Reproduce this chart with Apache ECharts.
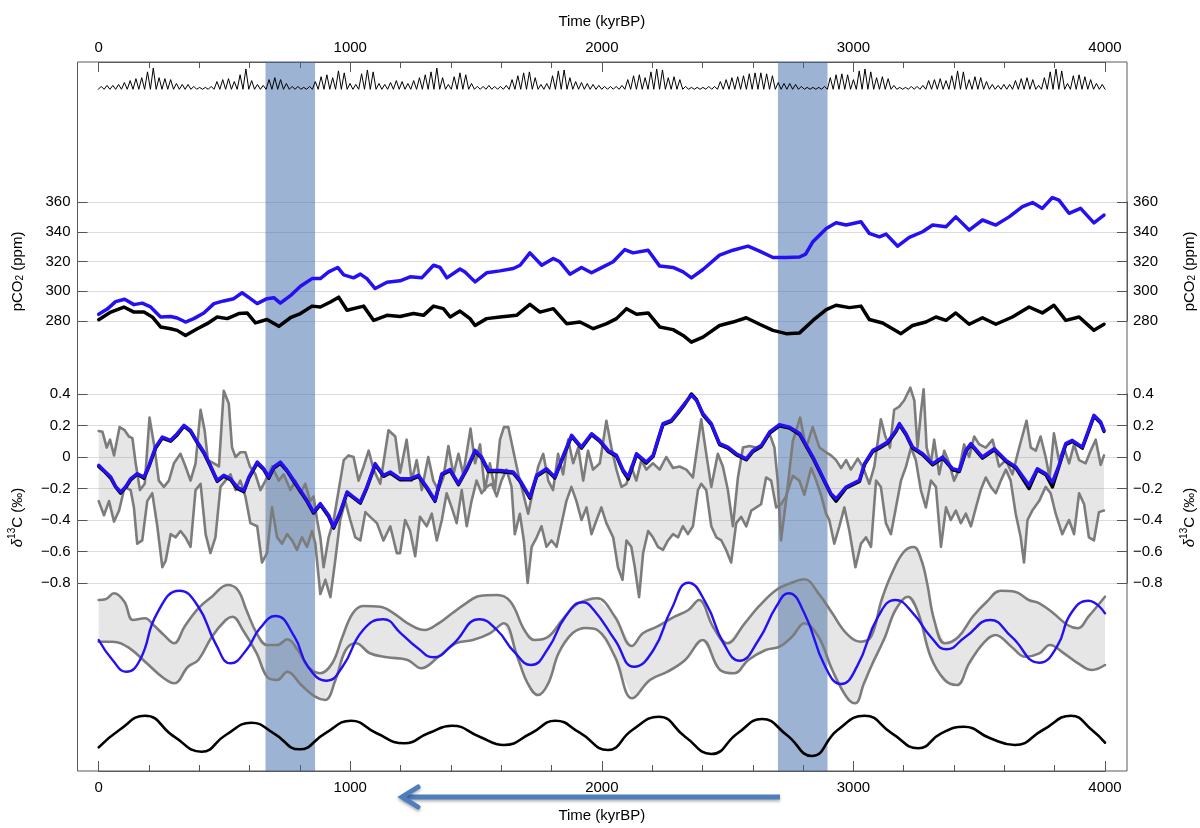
<!DOCTYPE html>
<html><head><meta charset="utf-8">
<script src="https://cdn.jsdelivr.net/npm/echarts@6/dist/echarts.min.js"></script>
<style>html,body{margin:0;padding:0;background:#fff}#c{width:1200px;height:828px}</style>
</head><body><div id="c"></div>
<script>
// ---------------- DATA ----------------
const timeTicks = [0, 4000, 1000];            // min, max, step (kyr BP)
const bands = [[663, 860], [2700, 2897]];     // shaded intervals (kyr BP)

// insolation-like forcing (top strip): peak heights, one per precession cycle
const insolStart = 10, insolStep = 23;
const insolPeaks = [3,4,4,5,7,9,11,12,18,22, 12,11,10,6,5,5,3,2,2,3, 8,10,11,8,15,21,9,5,4,10,
  12,10,6,3,3,2,3,8,13,15, 12,19,17,6,5,16,20,18,6,5, 7,9,8,6,9,12,15,18,22,12,
  5,13,17,15,6,3,3,4,3,3, 4,10,14,17,18,12,5,6,14,19, 20,12,8,7,6,5,4,3,3,3,
  4,10,14,15,12,18,21,20,12,13, 10,3,2,2,2,3,3,8,10,12, 13,14,16,17,17,16,14,7,6,6,
  5,3,2,2,2,3,12,15,16,15, 10,19,21,18,12,13,11,4,2,2, 3,3,4,9,10,11,9,14,19,18,
  10,13,12,8,5,4,5,5,9,11, 12,10,4,12,18,21,19,6,14,15, 13,10,6,5];

// pCO2 (ppm)
const co2Blue = [[0,284.5],[34,288],[67,293],[103,294.6],[140,291],[173,292],[206,289.5],[226,286],[246,282.7],[286,283],[312,282],[345,279.3],[378,281.6],[418,285.4],[458,291.7],[497,293.5],[537,295],[570,299],[603,295],[630,291.7],[669,295],[696,295.7],[722,292],[762,297],[802,303.4],[848,308.5],[881,308.5],[914,313],[950,316],[974,311],[1013,309],[1040,311.5],[1066,308.5],[1099,301.8],[1146,306],[1198,307],[1238,309.7],[1284,309],[1331,317.5],[1357,316],[1384,309],[1436,315],[1456,313],[1496,306.3],[1542,312.4],[1595,313.7],[1648,315.3],[1675,317.5],[1714,325.8],[1761,317.5],[1807,322],[1833,319.8],[1873,311.5],[1919,316],[1959,312.4],[2005,316.4],[2045,319.8],[2091,328],[2124,325.8],[2184,327.6],[2230,316.9],[2283,316],[2323,313],[2356,309],[2402,314.6],[2468,324.3],[2521,327.6],[2581,330.3],[2627,327],[2680,322.7],[2733,322.7],[2786,323],[2810,325],[2839,333.3],[2892,342.2],[2931,346],[2971,344.5],[3030,346.7],[3063,338.9],[3103,336.6],[3130,338.4],[3176,330.3],[3222,336.2],[3275,340],[3315,344.5],[3368,343.4],[3407,350],[3460,341.1],[3513,347.9],[3566,344.5],[3619,350],[3672,356.9],[3712,359.6],[3751,355.7],[3791,363],[3817,361.3],[3857,352.4],[3903,355.7],[3956,346],[3996,351.2]];
const co2Black = [[0,280.9],[48,286],[100,289.4],[140,286],[180,286],[213,282.7],[246,276],[286,274.8],[312,273.7],[345,270.3],[392,274.8],[431,278.2],[471,282.7],[511,281.6],[557,285],[590,285.4],[623,278.7],[669,281],[716,276.4],[762,282.2],[802,285],[848,290],[881,289.4],[921,292.8],[954,296],[987,287.2],[1053,290],[1093,280.4],[1146,283.8],[1198,283],[1251,285],[1291,283.8],[1331,290],[1370,288.3],[1397,282.7],[1436,286.7],[1476,281.6],[1496,277],[1542,281.6],[1595,282.7],[1661,283.8],[1714,291.2],[1754,286],[1807,288.3],[1860,278.2],[1913,279.3],[1966,274.8],[2019,278.2],[2058,281.6],[2098,288.3],[2138,284.5],[2184,285.4],[2230,276],[2283,274.2],[2323,270.3],[2356,265.8],[2402,269.2],[2468,277],[2521,279.3],[2574,282.2],[2627,277.8],[2680,273.7],[2733,271.5],[2786,272],[2839,280.4],[2892,287.6],[2931,290.6],[2984,289],[3030,290],[3063,281],[3116,278.7],[3189,271.5],[3235,277],[3288,279.3],[3328,282.7],[3368,280.4],[3407,285.4],[3460,277.8],[3513,282.2],[3566,277.8],[3632,282.7],[3698,289.4],[3751,285.4],[3797,290.6],[3844,280.4],[3897,282.7],[3956,273.7],[3996,277.8]];

// delta13C (permil)
const d13cBlue = [[0,-0.053],[21,-0.085],[48,-0.127],[67,-0.186],[87,-0.222],[107,-0.19],[127,-0.138],[153,-0.106],[180,-0.127],[200,-0.053],[226,0.063],[253,0.127],[286,0.106],[312,0.148],[339,0.201],[365,0.169],[392,0.095],[418,0.032],[444,-0.053],[471,-0.148],[497,-0.116],[524,-0.138],[550,-0.19],[577,-0.212],[597,-0.127],[630,-0.032],[656,-0.074],[676,-0.127],[696,-0.063],[722,-0.032],[749,-0.085],[775,-0.148],[802,-0.212],[828,-0.275],[854,-0.349],[881,-0.296],[914,-0.37],[934,-0.444],[960,-0.349],[987,-0.222],[1013,-0.254],[1040,-0.286],[1066,-0.19],[1099,-0.042],[1132,-0.116],[1159,-0.095],[1198,-0.137],[1238,-0.138],[1271,-0.116],[1304,-0.19],[1337,-0.275],[1364,-0.106],[1397,-0.08],[1430,-0.169],[1463,-0.074],[1496,0.042],[1522,0],[1549,-0.085],[1595,-0.085],[1648,-0.095],[1675,-0.148],[1714,-0.254],[1741,-0.116],[1780,-0.074],[1813,-0.127],[1847,0.011],[1880,0.138],[1919,0.063],[1959,0.148],[1992,0.106],[2025,0.042],[2058,0.011],[2085,-0.085],[2105,-0.127],[2138,0.021],[2177,-0.032],[2204,0.011],[2224,0.116],[2243,0.212],[2276,0.233],[2303,0.286],[2329,0.339],[2356,0.392],[2376,0.36],[2402,0.275],[2435,0.212],[2468,0.085],[2501,0.063],[2534,0.021],[2574,-0.011],[2601,0.042],[2634,0.074],[2667,0.159],[2706,0.205],[2746,0.19],[2786,0.15],[2839,0],[2878,-0.127],[2911,-0.233],[2931,-0.265],[2971,-0.19],[3024,-0.148],[3044,-0.042],[3077,0.042],[3103,0.063],[3136,0.095],[3169,0.169],[3183,0.212],[3209,0.148],[3235,0.063],[3275,0.021],[3315,-0.042],[3355,0],[3394,-0.074],[3421,-0.085],[3447,0.042],[3467,0.085],[3513,0],[3560,0.053],[3606,-0.021],[3646,-0.063],[3698,-0.18],[3731,-0.074],[3765,-0.106],[3791,-0.159],[3817,-0.053],[3844,0.085],[3870,0.106],[3910,0.063],[3937,0.18],[3956,0.265],[3983,0.222],[3996,0.169]];
const d13cBlack = [[0,-0.06],[21,-0.09],[48,-0.135],[67,-0.19],[87,-0.23],[107,-0.195],[127,-0.145],[153,-0.11],[180,-0.135],[200,-0.06],[226,0.055],[253,0.12],[286,0.1],[312,0.14],[339,0.195],[365,0.162],[392,0.09],[418,0.025],[444,-0.06],[471,-0.155],[497,-0.122],[524,-0.145],[550,-0.2],[577,-0.22],[597,-0.135],[630,-0.04],[656,-0.08],[676,-0.135],[696,-0.07],[722,-0.04],[749,-0.09],[775,-0.155],[802,-0.22],[828,-0.282],[854,-0.356],[881,-0.303],[914,-0.378],[934,-0.452],[960,-0.356],[987,-0.23],[1013,-0.26],[1040,-0.293],[1066,-0.197],[1099,-0.05],[1132,-0.123],[1159,-0.102],[1198,-0.145],[1238,-0.145],[1271,-0.123],[1304,-0.197],[1337,-0.282],[1364,-0.113],[1397,-0.087],[1430,-0.176],[1463,-0.081],[1496,0.035],[1522,-0.007],[1549,-0.092],[1595,-0.092],[1648,-0.102],[1675,-0.155],[1714,-0.262],[1741,-0.123],[1780,-0.081],[1813,-0.134],[1847,0.004],[1880,0.131],[1919,0.056],[1959,0.141],[1992,0.099],[2025,0.035],[2058,0.004],[2085,-0.092],[2105,-0.14],[2138,0.014],[2177,-0.039],[2204,0.004],[2224,0.109],[2243,0.205],[2276,0.226],[2303,0.279],[2329,0.332],[2356,0.4],[2376,0.365],[2402,0.268],[2435,0.205],[2468,0.078],[2501,0.056],[2534,0.014],[2574,-0.018],[2601,0.035],[2634,0.067],[2667,0.152],[2706,0.198],[2746,0.183],[2786,0.143],[2839,-0.007],[2878,-0.134],[2911,-0.24],[2931,-0.28],[2971,-0.197],[3024,-0.155],[3044,-0.049],[3077,0.035],[3103,0.056],[3136,0.088],[3169,0.162],[3183,0.205],[3209,0.141],[3235,0.056],[3275,0.014],[3315,-0.049],[3355,-0.007],[3394,-0.081],[3421,-0.092],[3447,0.035],[3467,0.078],[3513,-0.007],[3560,0.046],[3606,-0.028],[3646,-0.07],[3698,-0.2],[3731,-0.081],[3765,-0.113],[3791,-0.19],[3817,-0.06],[3844,0.078],[3870,0.099],[3910,0.056],[3937,0.173],[3956,0.258],[3983,0.215],[3996,0.162]];
const d13cGrayA = [[0,0.165],[15,0.16],[32,0.06],[45,0.11],[61,0.01],[83,0.19],[103,0.17],[120,0.13],[134,0.12],[147,-0.04],[164,-0.21],[183,-0.17],[202,0.25],[222,0.06],[239,-0.15],[259,-0.19],[279,-0.15],[299,-0.04],[325,0.02],[345,-0.06],[365,-0.15],[385,-0.04],[405,0.30],[421,0.17],[434,-0.02],[458,-0.04],[478,-0.06],[497,0.42],[517,0.34],[530,0.06],[544,0],[563,0.03],[583,0.03],[601,-0.06],[623,-0.11],[643,-0.21],[663,-0.15],[689,-0.06],[716,-0.15],[735,-0.11],[762,-0.21],[782,-0.15],[802,-0.23],[821,-0.17],[841,-0.28],[854,-0.25],[868,-0.40],[881,-0.51],[894,-0.70],[914,-0.51],[934,-0.40],[954,-0.21],[974,-0.02],[993,0.01],[1013,0],[1033,-0.15],[1053,-0.06],[1073,0.04],[1093,-0.08],[1119,-0.17],[1152,0.17],[1179,0.13],[1198,-0.1],[1224,0.11],[1244,-0.15],[1264,-0.02],[1284,-0.21],[1310,0],[1330,-0.15],[1350,-0.21],[1370,-0.13],[1390,0.07],[1410,-0.11],[1430,0.02],[1449,-0.11],[1478,0.18],[1496,-0.04],[1516,0.08],[1535,-0.21],[1555,-0.04],[1575,-0.21],[1595,0.11],[1611,0.19],[1628,0.19],[1648,0.04],[1668,-0.11],[1687,-0.23],[1707,-0.36],[1727,-0.21],[1747,-0.06],[1767,0.02],[1787,-0.15],[1806,-0.21],[1826,0.02],[1846,-0.11],[1866,0.11],[1886,-0.04],[1906,0.06],[1926,-0.15],[1945,0.04],[1965,-0.08],[1992,-0.04],[2018,0.23],[2038,0.06],[2058,-0.08],[2078,-0.19],[2098,-0.17],[2117,-0.06],[2137,-0.15],[2157,-0.02],[2177,-0.08],[2203,-0.04],[2230,-0.08],[2256,0],[2283,-0.07],[2309,-0.06],[2336,-0.08],[2362,-0.13],[2395,0.24],[2415,0.02],[2435,-0.19],[2461,0.02],[2481,-0.06],[2501,-0.21],[2521,-0.44],[2541,-0.13],[2561,0.06],[2587,0.07],[2614,0.06],[2640,0.08],[2666,0.15],[2686,0.06],[2699,-0.15],[2712,-0.53],[2732,-0.28],[2759,0.1],[2788,0.25],[2812,0.06],[2838,0.19],[2865,0.06],[2891,0.03],[2911,0.01],[2931,-0.02],[2951,-0.07],[2971,-0.02],[2990,-0.08],[3017,-0.01],[3037,-0.06],[3063,-0.17],[3083,-0.06],[3109,0.24],[3127,0.13],[3145,0.06],[3162,0.30],[3182,0.32],[3202,0.36],[3226,0.44],[3242,0.36],[3255,0.06],[3268,0.28],[3279,0.43],[3291,0.06],[3308,-0.04],[3321,0.11],[3341,-0.11],[3361,0.04],[3381,-0.04],[3400,-0.15],[3420,-0.08],[3440,0.08],[3460,0],[3480,0.13],[3500,0.08],[3526,0.06],[3553,0.11],[3579,-0.06],[3606,-0.02],[3632,-0.11],[3659,0.06],[3688,0.23],[3705,0.06],[3725,0.04],[3744,0.13],[3764,0],[3780,-0.13],[3797,0.15],[3817,-0.02],[3837,0.06],[3857,-0.04],[3877,0.08],[3897,-0.02],[3923,-0.04],[3943,0.04],[3963,0.11],[3983,-0.05],[3996,0.01]];
const d13cGrayB = [[0,-0.28],[21,-0.37],[41,-0.28],[61,-0.41],[81,-0.34],[103,-0.19],[127,-0.21],[140,-0.32],[153,-0.55],[173,-0.53],[193,-0.28],[213,-0.23],[233,-0.44],[253,-0.70],[266,-0.66],[286,-0.49],[306,-0.51],[325,-0.47],[345,-0.51],[365,-0.57],[385,-0.21],[405,-0.17],[425,-0.49],[444,-0.61],[464,-0.51],[484,-0.19],[504,-0.15],[524,-0.11],[544,-0.21],[563,-0.15],[583,-0.25],[603,-0.42],[630,-0.44],[649,-0.67],[669,-0.61],[689,-0.32],[709,-0.51],[729,-0.55],[749,-0.49],[769,-0.53],[788,-0.59],[808,-0.51],[828,-0.57],[848,-0.47],[861,-0.55],[881,-0.87],[901,-0.78],[921,-0.89],[940,-0.66],[960,-0.40],[980,-0.28],[1000,-0.40],[1020,-0.51],[1040,-0.53],[1060,-0.35],[1079,-0.38],[1106,-0.42],[1132,-0.53],[1159,-0.44],[1185,-0.61],[1198,-0.61],[1218,-0.40],[1238,-0.47],[1258,-0.63],[1277,-0.38],[1304,-0.44],[1324,-0.36],[1344,-0.53],[1364,-0.40],[1383,-0.23],[1403,-0.32],[1423,-0.42],[1443,-0.21],[1463,-0.44],[1482,-0.28],[1502,-0.15],[1522,-0.23],[1542,-0.19],[1562,-0.17],[1582,-0.25],[1601,-0.15],[1621,-0.08],[1641,-0.19],[1654,-0.49],[1674,-0.36],[1690,-0.53],[1705,-0.80],[1721,-0.57],[1741,-0.51],[1760,-0.44],[1780,-0.57],[1800,-0.53],[1820,-0.57],[1840,-0.42],[1859,-0.28],[1879,-0.19],[1899,-0.28],[1919,-0.40],[1939,-0.32],[1959,-0.49],[1979,-0.40],[1998,-0.32],[2018,-0.42],[2045,-0.51],[2064,-0.70],[2082,-0.78],[2098,-0.53],[2117,-0.57],[2131,-0.70],[2148,-0.89],[2164,-0.61],[2184,-0.47],[2203,-0.51],[2223,-0.57],[2243,-0.59],[2263,-0.53],[2283,-0.49],[2303,-0.51],[2322,-0.44],[2342,-0.49],[2362,-0.44],[2382,-0.21],[2395,-0.17],[2415,-0.21],[2435,-0.44],[2455,-0.51],[2475,-0.53],[2494,-0.59],[2514,-0.67],[2534,-0.42],[2554,-0.38],[2574,-0.44],[2594,-0.34],[2614,-0.32],[2633,-0.30],[2653,-0.13],[2673,-0.15],[2693,-0.32],[2712,-0.30],[2732,-0.25],[2759,-0.12],[2785,-0.15],[2805,-0.24],[2832,-0.07],[2852,-0.15],[2871,-0.24],[2891,-0.36],[2904,-0.40],[2924,-0.55],[2944,-0.44],[2964,-0.32],[2984,-0.47],[3008,-0.70],[3030,-0.55],[3050,-0.51],[3070,-0.57],[3090,-0.15],[3109,-0.19],[3129,-0.42],[3149,-0.49],[3169,-0.32],[3189,-0.15],[3209,-0.06],[3229,0.06],[3248,-0.02],[3268,-0.21],[3288,-0.32],[3308,-0.15],[3328,-0.19],[3348,-0.57],[3368,-0.32],[3387,-0.40],[3407,-0.34],[3427,-0.42],[3447,-0.36],[3467,-0.44],[3487,-0.32],[3506,-0.21],[3526,-0.13],[3546,-0.19],[3566,-0.23],[3586,-0.15],[3606,-0.08],[3625,-0.15],[3645,-0.36],[3665,-0.51],[3678,-0.67],[3692,-0.40],[3711,-0.34],[3738,-0.28],[3764,-0.19],[3784,-0.23],[3804,-0.36],[3830,-0.49],[3857,-0.40],[3877,-0.49],[3897,-0.23],[3917,-0.30],[3936,-0.51],[3956,-0.53],[3976,-0.35],[3996,-0.34]];

// filtered curves (lower panel, relative units)
const filtUpper = [[0,100],[27,100.7],[61,106.7],[102,98.3],[136,80],[184,81.7],[218,75],[259,65],[300,56.7],[341,73.3],[396,91.7],[450,103.3],[512,115],[553,110],[587,90],[628,66.7],[669,55],[709,55],[750,60.7],[791,50],[832,33.3],[880,26.7],[928,36.7],[969,63.3],[1010,86.7],[1051,94],[1119,93.3],[1173,86.7],[1228,76.7],[1296,70],[1351,76.7],[1405,86.7],[1460,96.7],[1514,104],[1583,105],[1637,98.3],[1692,70],[1733,60],[1787,63.3],[1842,80],[1896,95],[1951,100.7],[1982,101.7],[2052,83.3],[2119,54],[2163,66.7],[2219,73.3],[2289,83.3],[2344,90],[2386,100],[2442,73.3],[2498,56.7],[2568,76.7],[2623,93.3],[2693,110],[2749,116.7],[2805,120.7],[2861,106.7],[2916,86.7],[2972,66.7],[3028,58.3],[3070,63.3],[3112,100],[3153,126.7],[3200,148],[3240,153],[3270,140],[3293,116.7],[3321,80],[3363,56.7],[3418,63.3],[3474,83.3],[3530,98.3],[3586,109.3],[3642,108.3],[3697,100],[3739,96.7],[3795,86.7],[3851,75],[3893,71.7],[3934,83.3],[4000,103.3]];
const filtLower = [[0,58.3],[55,58.3],[123,51.7],[191,36.7],[259,21.7],[300,16.7],[355,33.3],[396,40],[450,63.3],[505,80],[532,83.3],[573,70],[628,46.7],[669,23.3],[709,20],[750,28.3],[805,15],[860,3.3],[900,0],[941,20],[982,50],[1023,56.7],[1078,46.7],[1146,42.7],[1228,40],[1282,31.7],[1351,43.3],[1419,56.7],[1487,60],[1555,66.7],[1610,76.7],[1664,43.3],[1705,16.7],[1746,5],[1787,16.7],[1828,46.7],[1883,66.7],[1937,72],[1982,70],[2052,43.3],[2121,1.7],[2191,20],[2261,28.3],[2331,40],[2400,60],[2470,30],[2526,26.7],[2582,40],[2651,50],[2707,53.3],[2756,63.3],[2805,76.7],[2861,63.3],[2916,30],[2972,3.3],[3007,-3.3],[3042,16.7],[3070,33.3],[3126,63.3],[3167,90],[3216,103.3],[3258,86.7],[3307,43.3],[3363,20],[3411,15],[3460,36.7],[3516,56.7],[3565,65],[3628,53.3],[3683,43.3],[3739,46.7],[3781,55],[3837,46.7],[3893,36.7],[3948,30],[4000,35]];
const filtBlue = [[0,60],[55,40],[109,28.3],[164,40],[232,86.7],[321,109.3],[396,93.3],[464,56.7],[525,36.7],[587,50],[641,71.7],[703,84],[778,63.3],[832,33.3],[907,19.3],[969,33.3],[1051,70],[1132,80.7],[1201,66.7],[1269,51.7],[1330,42.7],[1405,55],[1514,80.7],[1583,70],[1651,48.3],[1719,35],[1787,51.7],[1855,83.3],[1924,97.7],[1968,90],[2052,60],[2128,33.3],[2205,50],[2275,90],[2344,117.3],[2414,96.7],[2484,56.7],[2547,39.3],[2623,60],[2693,93.3],[2742,106.7],[2805,86.7],[2888,33.3],[2951,16],[3014,33.3],[3098,83.3],[3167,100],[3237,86.7],[3307,63.3],[3370,50.7],[3446,63.3],[3544,80],[3628,63.3],[3739,37.3],[3809,53.3],[3865,86.7],[3934,99.3],[4000,86.7]];
const sineBlack = [[0,22.7],[82,40],[184,54.3],[300,33.3],[409,18.3],[505,35],[607,47.3],[696,36.7],[798,20.7],[900,36.7],[1003,49.3],[1105,36.7],[1214,26.7],[1310,36.7],[1405,44.3],[1514,33.3],[1610,25],[1719,36.7],[1815,49.3],[1912,37.3],[2024,20],[2121,40],[2226,53.3],[2331,33.3],[2435,16],[2540,36.7],[2637,51],[2735,35],[2835,14],[2937,40],[3045,54.3],[3153,36.7],[3258,21.7],[3349,36.7],[3439,43.3],[3544,31.7],[3642,25],[3753,40],[3865,54.3],[3948,40],[4000,27.3]];

// tick settings
const co2Axis = [280, 360, 20];
const d13cAxis = [-0.8, 0.4, 0.2];

// ---------------- LAYOUT ----------------
const FONT = '"Liberation Sans", Arial, Helvetica, sans-serif';
const FL = 77.5, FR = 73;                 // frame left/right offsets (px)
const XMIN = -84.27, XMAX = 4087.45;      // time span covered by the frame
const DL = 98.7, DR = 95;                 // 0..4000 span (px)
const FRAME = '#5a5a5a';

const insolData = [];
insolPeaks.forEach((h, i) => {
  const x = insolStart + i * insolStep;
  insolData.push([x - insolStep / 2, 0], [x, h]);
});
insolData.push([insolStart + (insolPeaks.length - 1) * insolStep + insolStep / 2, 0]);

const grids = [
  {left: FL, right: FR, top: 62, bottom: 57, show: true, borderColor: FRAME, borderWidth: 1, backgroundColor: 'transparent'},
  {left: DL, right: DR, top: 62, bottom: 57},
  {left: FL, right: FR, top: 58.3, bottom: 828 - 89.3},
  {left: FL, right: FR, top: 202, bottom: 828 - 321},
  {left: FL, right: FR, top: 394, bottom: 828 - 583},
  {left: FL, right: FR, top: 540, bottom: 828 - 700},
  {left: FL, right: FR, top: 710, bottom: 58}
].map(g => Object.assign({outerBoundsMode: 'none', containLabel: false}, g));

const hiddenX = gi => ({type: 'value', gridIndex: gi, min: XMIN, max: XMAX, show: false, axisLine: {onZero: false}});
const hiddenY = (gi, min, max) => ({type: 'value', gridIndex: gi, min, max, show: false, axisLine: {onZero: false}});

const labelStyle = {color: '#000', fontSize: 15, fontFamily: FONT};
const tickStyle = {lineStyle: {color: '#555', width: 1}};

function timeAxis(pos, gap, margin) {
  return {
    type: 'value', gridIndex: 1, position: pos,
    min: timeTicks[0], max: timeTicks[1], interval: timeTicks[2],
    axisLine: {show: true, onZero: false, lineStyle: {color: FRAME, width: 1}},
    axisTick: Object.assign({show: true, inside: true, length: 10}, tickStyle),
    minorTick: Object.assign({show: true, splitNumber: 5, length: 6}, tickStyle),
    splitLine: {show: false}, minorSplitLine: {show: false},
    axisLabel: Object.assign({margin, formatter: v => String(v)}, labelStyle),
    name: 'Time (kyrBP)', nameLocation: 'middle', nameGap: gap,
    nameTextStyle: {color: '#000', fontSize: 15, fontFamily: FONT}
  };
}

const richCO2 = {
  a: {fontSize: 15, fontFamily: FONT, color: '#000', lineHeight: 18, verticalAlign: 'bottom'},
  s: {fontSize: 10, fontFamily: FONT, color: '#000', lineHeight: 6, verticalAlign: 'bottom'}
};
const richD13 = {
  i: {fontSize: 15, fontFamily: FONT, fontStyle: 'italic', color: '#000', lineHeight: 18, verticalAlign: 'bottom'},
  p: {fontSize: 10, fontFamily: FONT, color: '#000', lineHeight: 6, verticalAlign: 'top'},
  a: {fontSize: 15, fontFamily: FONT, color: '#000', lineHeight: 18, verticalAlign: 'bottom'}
};

function valueAxis(gi, pos, spec, split, name, rich, pad, fmt) {
  return {
    type: 'value', gridIndex: gi, position: pos,
    min: spec[0], max: spec[1], interval: spec[2],
    axisLine: {show: true, onZero: false, lineStyle: {color: FRAME, width: 1}},
    axisTick: Object.assign({show: true, inside: true, length: 10}, tickStyle),
    axisLabel: Object.assign({margin: pos === 'left' ? 7 : 6, formatter: fmt}, labelStyle),
    splitLine: {show: split, lineStyle: {color: '#dcdcdc', width: 1}},
    name, nameLocation: 'middle', nameGap: 52, nameRotate: 90,
    nameTextStyle: {rich, padding: [0, pad, 0, 0]}
  };
}
const fmtNum = v => String(+(+v).toFixed(2)).replace('-', '\u2212');

// xAxis indices: 0 frame, 1 bottom time, 2 top time, 3 insol, 4 co2, 5 d13c, 6 filt, 7 sine
const xAxes = [hiddenX(0), timeAxis('bottom', 37, 9), timeAxis('top', 33, 7),
  hiddenX(2), hiddenX(3), hiddenX(4), hiddenX(5), hiddenX(6)];
// yAxis indices: 0 frame, 1 time grid, 2 insol, 3/4 co2, 5/6 d13c, 7 filt, 8 sine
const yAxes = [
  hiddenY(0, 0, 1), hiddenY(1, 0, 1), hiddenY(2, 0, 32),
  valueAxis(3, 'left', co2Axis, true, '{a|pCO}{s|2}{a| (ppm)}', richCO2, 20, fmtNum),
  valueAxis(3, 'right', co2Axis, false, '{a|pCO}{s|2}{a| (ppm)}', richCO2, 20, fmtNum),
  valueAxis(4, 'left', d13cAxis, true, '{i|\u03b4}{p|13}{a|C (\u2030)}', richD13, 58, fmtNum),
  valueAxis(4, 'right', d13cAxis, false, '{i|\u03b4}{p|13}{a|C (\u2030)}', richD13, 58, fmtNum),
  hiddenY(5, 0, 160), hiddenY(6, 0, 60)
];

function line(xi, yi, data, color, width, extra) {
  return Object.assign({
    type: 'line', xAxisIndex: xi, yAxisIndex: yi, data, symbol: 'none', clip: false, silent: true,
    lineStyle: {color, width, join: 'round', cap: 'round'}, z: 3
  }, extra || {});
}
function fillBetween(xi, yi, upper, lower, color) {
  return {
    type: 'custom', xAxisIndex: xi, yAxisIndex: yi, silent: true, clip: false, z: 1,
    data: [upper[0]],
    renderItem: (params, api) => {
      const pts = upper.map(p => api.coord(p)).concat(lower.slice().reverse().map(p => api.coord(p)));
      return {type: 'polygon', shape: {points: pts}, style: {fill: color}};
    }
  };
}

const BLUE = '#2410f2', GRAY = '#7c7c7c', FILL = 'rgba(120,120,120,0.19)';

const series = [
  line(3, 2, insolData, '#000', 1),
  line(4, 3, co2Black, '#000', 3.5),
  line(4, 3, co2Blue, BLUE, 3.5),
  fillBetween(5, 5, d13cGrayA, d13cGrayB, FILL),
  line(5, 5, d13cGrayA, GRAY, 2.6),
  line(5, 5, d13cGrayB, GRAY, 2.6),
  line(5, 5, d13cBlack, '#000', 3.4),
  line(5, 5, d13cBlue, BLUE, 3.4),
  fillBetween(6, 7, filtUpper, filtLower, FILL),
  line(6, 7, filtUpper, GRAY, 2.6, {smooth: 0.4}),
  line(6, 7, filtLower, GRAY, 2.6, {smooth: 0.4}),
  line(6, 7, filtBlue, BLUE, 2.4, {smooth: 0.5}),
  line(7, 8, sineBlack, '#000', 2.6, {smooth: 0.5}),
  {
    type: 'line', xAxisIndex: 0, yAxisIndex: 0, data: [], silent: true, z: 20,
    markArea: {
      silent: true, label: {show: false},
      itemStyle: {color: 'rgba(58,104,170,0.5)'},
      data: bands.map(b => [{xAxis: b[0]}, {xAxis: b[1]}])
    }
  }
];

const chart = echarts.init(document.getElementById('c'), null, {renderer: 'canvas'});
chart.setOption({
  animation: false,
  backgroundColor: '#fff',
  grid: grids,
  xAxis: xAxes,
  yAxis: yAxes,
  series,
  graphic: [{
    type: 'group', silent: true, z: 50,
    children: [
      {type: 'line', shape: {x1: 780, y1: 797, x2: 404, y2: 797},
       style: {stroke: '#4f7ebd', lineWidth: 5, shadowBlur: 3, shadowColor: 'rgba(0,0,0,0.3)', shadowOffsetY: 2}},
      {type: 'polyline', shape: {points: [[418, 787], [402, 797], [418, 807]]},
       style: {stroke: '#4f7ebd', lineWidth: 5, fill: null, lineJoin: 'miter', lineCap: 'round',
               shadowBlur: 3, shadowColor: 'rgba(0,0,0,0.3)', shadowOffsetY: 2}}
    ]
  }]
});
</script></body></html>
